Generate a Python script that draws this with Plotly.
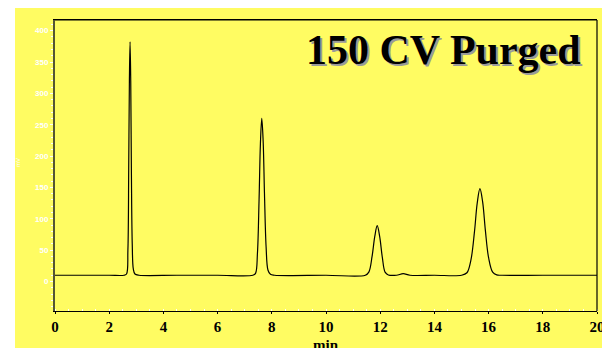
import plotly.graph_objects as go

# Chromatogram data (time in min, signal in mV)
time_min = [0.0, 1.0, 2.0, 2.55, 2.64, 2.69, 2.72, 2.745, 2.77, 2.795, 2.82, 2.85, 2.89, 2.95, 3.1,
            4.5, 6.0, 7.3, 7.40, 7.47, 7.53, 7.58, 7.63, 7.68, 7.73, 7.79, 7.86, 7.95, 8.1,
            10.0, 11.45, 11.58, 11.70, 11.80, 11.89, 11.98, 12.08, 12.18, 12.30,
            12.6, 12.85, 13.1, 14.0, 15.0, 15.2, 15.35, 15.48, 15.58, 15.68, 15.78, 15.88, 16.0,
            16.15, 16.3, 16.5, 18.0, 20.0]
signal_mv = [10, 10, 10, 10, 12, 50, 180, 320, 382, 320, 170, 60, 20, 12, 10,
             10, 10, 10, 13, 45, 130, 220, 260, 225, 140, 55, 18, 11.5, 10,
             10, 10, 15, 40, 72, 89, 72, 38, 15, 10.5,
             10, 12.5, 10, 10, 10, 14, 35, 80, 125, 148, 127, 82, 38,
             15, 10.5, 10, 10, 10]

x_ticks = [0, 2, 4, 6, 8, 10, 12, 14, 16, 18, 20]
y_ticks = [0, 50, 100, 150, 200, 250, 300, 350, 400]
title_text = "150 CV Purged"
x_title = "min"
y_title = "mV"

YELLOW = "#FFFC62"

fig = go.Figure()
fig.add_trace(go.Scatter(x=time_min, y=signal_mv, mode="lines", line_shape="spline",
                         line=dict(color="black", width=1.2), hoverinfo="skip"))

L, R, T, B = 55, 5, 20, 37
W, H = 602, 348
pw, ph = W - L - R, H - T - B

def px_x(p):
    return (p - L) / pw

def px_y(p):
    return (H - B - p) / ph

fig.add_shape(type="rect", xref="paper", yref="paper",
              x0=px_x(15), x1=px_x(602), y0=px_y(348), y1=px_y(8),
              fillcolor=YELLOW, line_width=0, layer="below")

for dx, dy, col in [(2, 2, "#9a9a9a"), (0, 0, "black")]:
    fig.add_annotation(x=px_x(443 + dx), y=px_y(50 + dy), xref="paper", yref="paper",
                       xanchor="center", yanchor="middle", text=f"<b>{title_text}</b>",
                       showarrow=False, font=dict(family="Liberation Serif", size=42, color=col))

fig.add_annotation(x=px_x(18), y=px_y(163), xref="paper", yref="paper", text=y_title, textangle=-90,
                   xanchor="center", yanchor="middle",
                   showarrow=False, font=dict(family="Liberation Sans", size=6, color="white"))

fig.add_annotation(x=px_x(326), y=px_y(345), xref="paper", yref="paper", text=f"<b>{x_title}</b>",
                   xanchor="center", yanchor="middle",
                   showarrow=False, font=dict(family="Liberation Serif", size=15, color="black"))

fig.update_layout(
    width=W, height=H, margin=dict(l=L, r=R, t=T, b=B, autoexpand=False),
    paper_bgcolor="white", plot_bgcolor=YELLOW, showlegend=False,
    xaxis=dict(range=[0, 20], tickvals=x_ticks, ticktext=[str(v) for v in x_ticks],
               automargin=False,
               showgrid=False, zeroline=False, showline=True, linecolor="black", linewidth=1.2,
               mirror=True, ticks="outside", ticklen=2, tickcolor="black",
               ticklabeloverflow="allow",
               minor=dict(dtick=0.5, ticks="inside", ticklen=2, tickcolor="white"),
               tickfont=dict(family="Liberation Serif", size=15, color="black", weight="bold")),
    yaxis=dict(range=[-47, 417], tickvals=y_ticks, ticktext=[str(v) for v in y_ticks],
               automargin=False,
               showgrid=False, zeroline=False, showline=True, linecolor="#555533", linewidth=2,
               mirror=False, ticks="outside", ticklen=3, tickcolor="white",
               ticklabeloverflow="allow",
               minor=dict(dtick=10, ticks="outside", ticklen=2, tickcolor="white"),
               tickfont=dict(family="Liberation Sans", size=8, color="white", weight="bold")),
)
fig.add_shape(type="line", xref="paper", yref="paper", x0=0, x1=1, y0=1, y1=1,
              line=dict(color="black", width=1.2))
fig.add_shape(type="line", xref="paper", yref="paper", x0=1, x1=1, y0=0, y1=1,
              line=dict(color="black", width=1.2))

fig.write_html("out.html")
